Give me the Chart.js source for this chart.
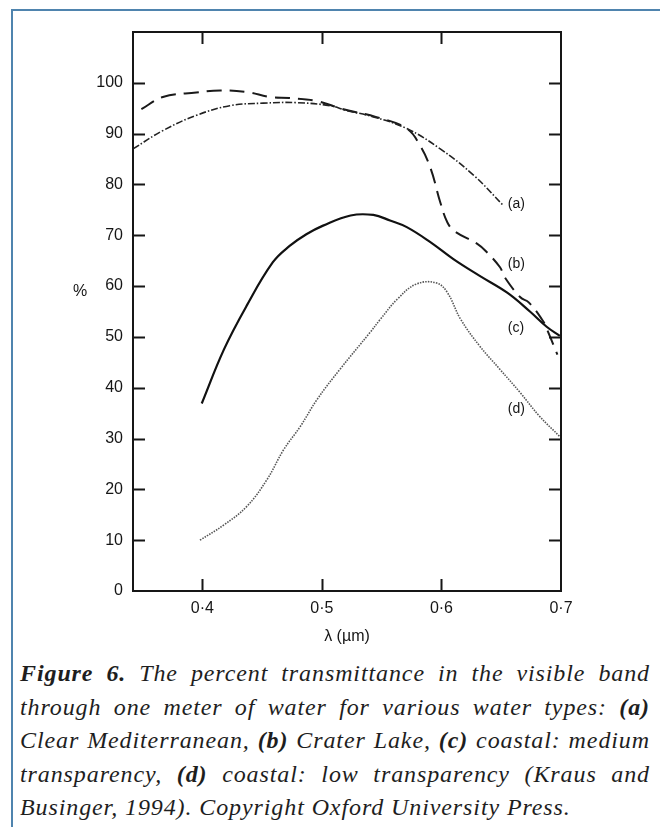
<!DOCTYPE html>
<html>
<head>
<meta charset="utf-8">
<script src="https://cdn.jsdelivr.net/npm/chart.js@4/dist/chart.umd.min.js"></script>
<style>
  html, body { margin: 0; padding: 0; background: #fff; }
  #page { position: relative; width: 660px; height: 827px; overflow: hidden; background: #fff; }
  #frameTop { position: absolute; left: 11px; top: 9px; width: 649px; height: 2px; background: #4f84ae; }
  #frameLeft { position: absolute; left: 11px; top: 9px; width: 2px; height: 818px; background: #4f84ae; }
  #chartBox { position: absolute; left: 0; top: 0; width: 660px; height: 650px; }
  #caption { position: absolute; left: 20px; top: 657px; width: 630px;
    font-family: "Liberation Serif", "DejaVu Serif", serif; font-style: italic;
    font-size: 24px; letter-spacing: 0.9px; line-height: 33.5px; color: #1e1e1e; }
  #caption .ln { text-align: justify; text-align-last: justify; white-space: nowrap; }
  #caption .ln.last { text-align-last: left; }
  #caption b { font-weight: bold; }
</style>
</head>
<body>
<div id="page">
  <div id="frameTop"></div>
  <div id="frameLeft"></div>
  <div id="chartBox"><canvas id="chart" width="660" height="650"></canvas></div>
  <div id="caption">
    <div class="ln"><b>Figure 6.</b> The percent transmittance in the visible band</div>
    <div class="ln">through one meter of water for various water types: <b>(a)</b></div>
    <div class="ln">Clear Mediterranean, <b>(b)</b> Crater Lake, <b>(c)</b> coastal: medium</div>
    <div class="ln">transparency, <b>(d)</b> coastal: low transparency (Kraus and</div>
    <div class="ln last">Businger, 1994). Copyright Oxford University Press.</div>
  </div>
</div>
<script>
// Wavelength (µm) and percent transmittance for each water type
const waveA = [0.342, 0.367, 0.395, 0.423, 0.451, 0.479, 0.507, 0.520, 0.543, 0.571, 0.599, 0.627, 0.652];
const transA = [87.0, 90.6, 93.6, 95.5, 96.0, 96.1, 95.5, 94.6, 93.3, 91.0, 87.0, 81.8, 75.8];

const waveB = [0.349, 0.367, 0.395, 0.415, 0.437, 0.457, 0.473, 0.496, 0.518, 0.545, 0.571, 0.582, 0.591, 0.599, 0.605, 0.611, 0.630, 0.637, 0.649, 0.653, 0.666, 0.673, 0.685, 0.689, 0.697];
const transB = [94.8, 97.2, 98.1, 98.5, 98.2, 97.2, 97.0, 96.4, 94.8, 93.3, 91.0, 87.7, 83.1, 76.5, 72.5, 70.8, 68.3, 66.9, 63.7, 61.7, 57.8, 56.8, 53.1, 51.1, 46.5];

const waveC = [0.3995, 0.418, 0.437, 0.459, 0.473, 0.487, 0.501, 0.524, 0.543, 0.557, 0.571, 0.591, 0.610, 0.632, 0.655, 0.674, 0.688, 0.699];
const transC = [36.9, 47.5, 56.1, 64.7, 67.9, 70.2, 71.9, 73.9, 74.0, 72.9, 71.6, 68.6, 65.3, 62.0, 58.7, 55.0, 52.0, 50.2];

const waveD = [0.398, 0.418, 0.437, 0.454, 0.468, 0.482, 0.496, 0.515, 0.540, 0.549, 0.563, 0.579, 0.596, 0.605, 0.616, 0.632, 0.649, 0.666, 0.682, 0.699];
const transD = [10.0, 13.0, 16.6, 21.9, 27.8, 32.4, 37.7, 43.6, 50.8, 53.5, 57.4, 60.4, 60.6, 58.7, 53.5, 48.2, 43.6, 39.0, 34.4, 30.4];

// Axis ticks
const xTickValues = [0.4, 0.5, 0.6, 0.7];
const xTickLabels = ['0·4', '0·5', '0·6', '0·7'];
const yTickValues = [0, 10, 20, 30, 40, 50, 60, 70, 80, 90, 100];

// Curve tags placed next to each curve (x, y in data units)
const curveTags = ['(a)', '(b)', '(c)', '(d)'];
const tagX = [0.6555, 0.6555, 0.6555, 0.6555];
const tagY = [76.2, 64.3, 51.8, 35.7];

const xTitle = 'λ (µm)';
const yTitle = '%';

const toPoints = (xs, ys) => xs.map((x, i) => ({ x: x, y: ys[i] }));

const ink = '#161616';
const sans = '"Liberation Sans", Arial, sans-serif';

const frameAndTags = {
  id: 'frameAndTags',
  afterDraw(chart) {
    const { ctx, chartArea: a, scales } = chart;
    const xs = scales.x, ys = scales.y;
    const len = 12;
    ctx.save();
    ctx.strokeStyle = ink;
    ctx.lineWidth = 2;
    // plot frame
    ctx.strokeRect(a.left, a.top, a.right - a.left, a.bottom - a.top);
    // y ticks on left and right, pointing inward
    yTickValues.forEach(v => {
      if (v === 0) return;
      const py = Math.round(ys.getPixelForValue(v)) + 0.5;
      ctx.beginPath();
      ctx.moveTo(a.left, py); ctx.lineTo(a.left + len, py);
      ctx.moveTo(a.right, py); ctx.lineTo(a.right - len, py);
      ctx.stroke();
    });
    // x ticks on bottom and top, pointing inward
    xTickValues.forEach(v => {
      if (v >= xs.max) return;
      const px = Math.round(xs.getPixelForValue(v)) + 0.5;
      ctx.beginPath();
      ctx.moveTo(px, a.bottom); ctx.lineTo(px, a.bottom - len);
      ctx.moveTo(px, a.top); ctx.lineTo(px, a.top + len);
      ctx.stroke();
    });
    // curve tags
    ctx.fillStyle = ink;
    ctx.font = '14px ' + sans;
    ctx.textAlign = 'left';
    ctx.textBaseline = 'middle';
    curveTags.forEach((t, i) => {
      ctx.fillText(t, xs.getPixelForValue(tagX[i]), ys.getPixelForValue(tagY[i]));
    });
    // axis titles
    ctx.font = '16px ' + sans;
    ctx.textAlign = 'center';
    ctx.fillText(xTitle, (a.left + a.right) / 2, 637);
    ctx.fillText(yTitle, a.left - 53, ys.getPixelForValue(59));
    ctx.restore();
  }
};

const common = { fill: false, pointRadius: 0, tension: 0.4, borderCapStyle: 'butt' };

new Chart(document.getElementById('chart'), {
  type: 'line',
  data: {
    datasets: [
      Object.assign({ label: '(a)', data: toPoints(waveA, transA), borderColor: '#222', borderWidth: 1.6, borderDash: [7, 2, 1.5, 2] }, common),
      Object.assign({ label: '(b)', data: toPoints(waveB, transB), borderColor: '#1a1a1a', borderWidth: 2, borderDash: [15, 8] }, common),
      Object.assign({ label: '(c)', data: toPoints(waveC, transC), borderColor: '#111', borderWidth: 2.2 }, common),
      Object.assign({ label: '(d)', data: toPoints(waveD, transD), borderColor: '#555', borderWidth: 1.6, borderDash: [1.5, 1.2] }, common)
    ]
  },
  options: {
    responsive: false,
    animation: false,
    events: [],
    layout: { padding: { top: 32, right: 99, left: 0, bottom: 0 } },
    plugins: { legend: { display: false }, tooltip: { enabled: false } },
    scales: {
      x: {
        type: 'linear',
        min: 0.342,
        max: 0.7,
        afterFit(s) { s.height = 59; },
        afterBuildTicks(s) { s.ticks = xTickValues.map(v => ({ value: v })); },
        grid: { display: false, drawTicks: false },
        border: { display: false },
        ticks: {
          padding: 8,
          color: ink,
          font: { family: sans, size: 16 },
          maxRotation: 0,
          autoSkip: false,
          callback(v) { const i = xTickValues.indexOf(v); return i >= 0 ? xTickLabels[i] : ''; }
        }
      },
      y: {
        type: 'linear',
        min: 0,
        max: 110,
        afterFit(s) { s.width = 133; },
        afterBuildTicks(s) { s.ticks = yTickValues.map(v => ({ value: v })); },
        grid: { display: false, drawTicks: false },
        border: { display: false },
        ticks: {
          padding: 10,
          color: ink,
          font: { family: sans, size: 16 },
          callback(v) { return String(v); }
        }
      }
    }
  },
  plugins: [frameAndTags]
});
</script>
</body>
</html>
